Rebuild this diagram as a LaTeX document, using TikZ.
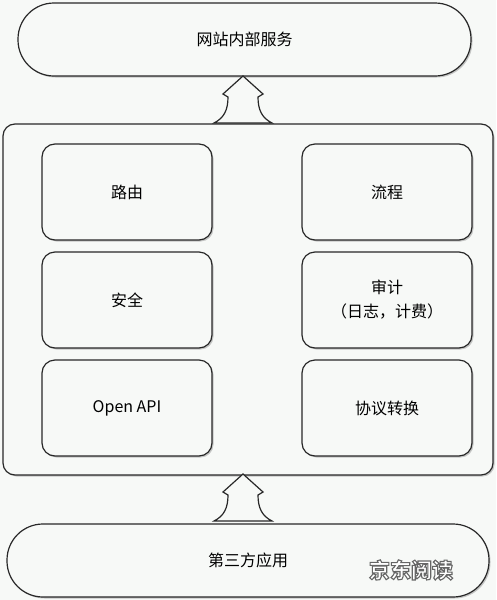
\documentclass[tikz,border=0pt]{standalone}
\usepackage{fontspec}
\setmainfont{Noto Sans CJK SC}
\usetikzlibrary{shadows,calc}
\definecolor{bgc}{RGB}{247,249,247}
\definecolor{linec}{RGB}{40,40,40}
\tikzset{
  base/.style={draw=linec, line width=1.2pt, fill=bgc,
    drop shadow={shadow xshift=1.5pt, shadow yshift=-1.5pt, opacity=0.35, fill=black!60}},
  stadium/.style={base, rounded corners=36pt, minimum height=73pt, font=\fontsize{16}{20}\selectfont},
  outerbox/.style={base, rounded corners=12pt, minimum width=490pt, minimum height=351pt},
  modbox/.style={base, rounded corners=13pt, minimum width=170pt, minimum height=96pt,
    align=center, font=\fontsize{16}{24}\selectfont},
  blockarrow/.pic={
    \draw[draw=linec, line width=1.2pt, fill=bgc, line join=miter]
      (0,0) -- (-20,18) -- (-15,21) .. controls (-15,34) and (-19,42) .. (-29,47)
      -- (29,47) .. controls (19,42) and (15,34) .. (15,21) -- (20,18) -- cycle;
  }
}
\begin{document}
\begin{tikzpicture}[x=1pt, y=-1pt]
\fill[bgc] (0,0) rectangle (496,600);
\useasboundingbox (0,0) rectangle (496,600);
\node[stadium, minimum width=453pt] (web) at (244.5,39.5) {网站内部服务};
\node[outerbox] (gw) at (248,299.5) {};
\node[modbox] (route) at (127,192) {路由};
\node[modbox] (flow) at (387,192) {流程};
\node[modbox] (sec) at (127,300) {安全};
\node[modbox] (audit) at (387,300) {审计\\（日志，计费）};
\node[modbox] (api) at (127,408) {Open API};
\node[modbox] (conv) at (387,408) {协议转换};
\node[stadium, minimum width=482pt] (third) at (248,560.5) {第三方应用};
\coordinate (tipA) at (243,76);
\coordinate (tipB) at (243,474);
\pic at (tipA) {blockarrow};
\pic at (tipB) {blockarrow};
\node[font=\bfseries\fontsize{21}{21}\selectfont, text=white] (wm) at (411,570)
  {\special{pdf:literal 2 Tr 0.4 G 1.1 w}京东阅读\special{pdf:literal 0 Tr}};
\end{tikzpicture}
\end{document}
